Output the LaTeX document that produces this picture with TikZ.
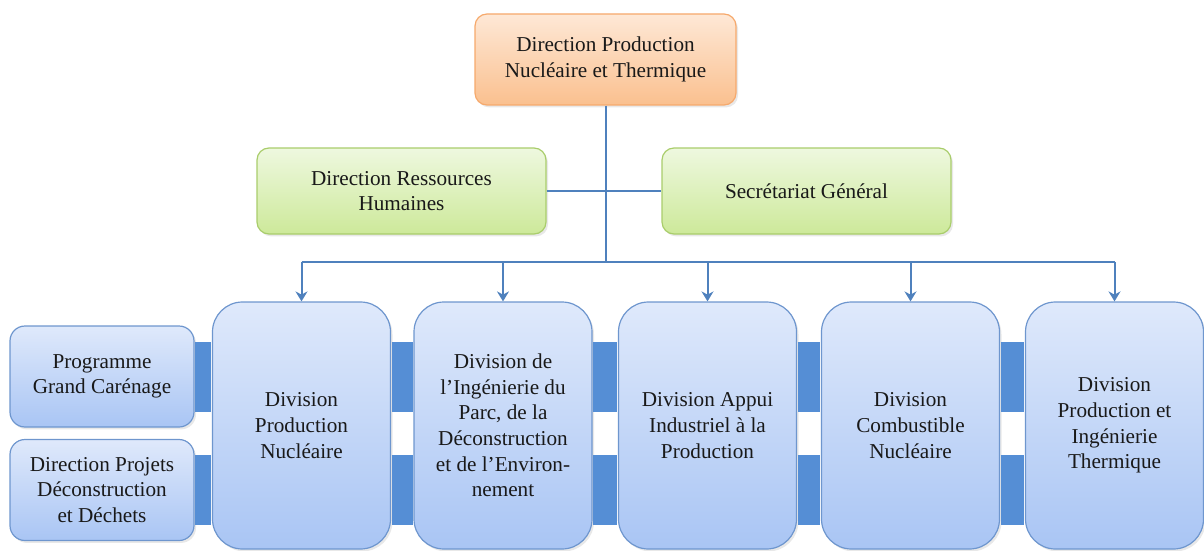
\documentclass[tikz,border=0pt]{standalone}
\usepackage{fontspec}
\setmainfont{Liberation Serif}
\usetikzlibrary{arrows.meta,shadows}
\definecolor{orgtop}{HTML}{FEE8D6}
\definecolor{orgbot}{HTML}{FAC08F}
\definecolor{orgline}{HTML}{F6A96C}
\definecolor{grntop}{HTML}{EEF8DF}
\definecolor{grnbot}{HTML}{CDE99A}
\definecolor{grnline}{HTML}{A9CD6B}
\definecolor{blutop}{HTML}{DFE9FB}
\definecolor{blubot}{HTML}{A9C5F4}
\definecolor{bluline}{HTML}{6E96CE}
\definecolor{barblue}{HTML}{558ED5}
\definecolor{lnblue}{HTML}{4F81BD}
\tikzset{
    BX/.style ={rectangle, align=center, inner sep=2pt, text=black!90,
        font=\fontsize{10.6}{12.8}\selectfont, line width=0.6pt,
        drop shadow={opacity=0.18, shadow xshift=1pt, shadow yshift=-1.2pt}},
    BXO/.style ={BX, rounded corners=6pt, minimum width=130.5pt, minimum height=45.5pt,
        draw=orgline, top color=orgtop, bottom color=orgbot},
    BXG/.style ={BX, rounded corners=6pt, minimum width=144.5pt, minimum height=43pt,
        draw=grnline, top color=grntop, bottom color=grnbot},
    BXL/.style ={BX, rounded corners=7.5pt, minimum width=92pt, minimum height=50.5pt,
        draw=bluline, top color=blutop, bottom color=blubot},
    BXD/.style ={BX, rounded corners=15pt, minimum width=89pt, minimum height=123.5pt,
        draw=bluline, top color=blutop, bottom color=blubot},
    LN/.style ={draw=lnblue, line width=1pt},
    BAR/.style ={draw=barblue, line width=35pt, shorten <=0.3pt, shorten >=0.3pt}
}

\begin{document}
\begin{tikzpicture}[x=0.5pt,y=-0.5pt]
    \useasboundingbox (0,0) rectangle (1204,551);
    \node[BXO] (dpnt) at (605.5,59.5) {Direction Production\\Nucléaire et Thermique};
    \node[BXG] (drh) at (401.5,191) {Direction Ressources\\Humaines};
    \node[BXG] (sg) at (806.5,191) {Secrétariat Général};
    \coordinate (bus) at (605.5,262);

    \node[BXL] (gce) at (102,376.5) {Programme\\Grand Carénage};
    \node[BXL] (dpdd) at (102,490) {Direction Projets\\Déconstruction\\et Déchets};

    \node[BXD] (dpn) at (301.5,425.5) {Division\\Production\\Nucléaire};
    \node[BXD] (dipde) at (503,425.5) {Division de\\l'Ingénierie du\\Parc, de la\\Déconstruction\\et de l'Environ-\\nement};
    \node[BXD] (daip) at (707.5,425.5) {Division Appui\\Industriel à la\\Production};
    \node[BXD] (dcn) at (910.5,425.5) {Division\\Combustible\\Nucléaire};
    \node[BXD] (dpit) at (1114.5,425.5) {Division\\Production et\\Ingénierie\\Thermique};

    \draw[LN] (dpnt.south) -- (bus);
    \draw[LN] (drh.east) -- (sg.west);
    \draw[LN] (bus -| dpn) -- (bus -| dpit);
    \foreach \n in {dpn,dipde,daip,dcn,dpit}
        \draw[LN,-{Stealth[length=5pt,width=6pt]}] (bus -| \n) -- (\n.north);

    \draw[BAR] (gce.east) -- (gce -| dpn.west);
    \draw[BAR] (dpdd.east) -- (dpdd -| dpn.west);
    \foreach \a/\b in {dpn/dipde,dipde/daip,daip/dcn,dcn/dpit}{
        \draw[BAR] (\a.east |- gce) -- (\b.west |- gce);
        \draw[BAR] (\a.east |- dpdd) -- (\b.west |- dpdd);
    }
\end{tikzpicture}
\end{document}
